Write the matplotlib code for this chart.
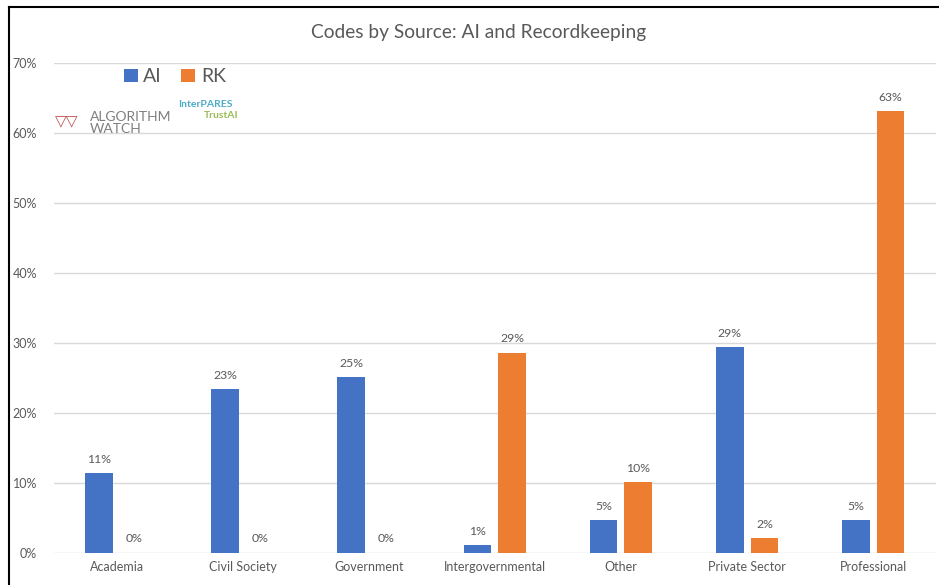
import matplotlib.pyplot as plt
from matplotlib.lines import Line2D
import numpy as np

plt.rcParams['font.family'] = ['Lato', 'DejaVu Sans']

categories = ["Academia", "Civil Society", "Government", "Intergovernmental",
              "Other", "Private Sector", "Professional"]
ai_values = [11.4, 23.4, 25.1, 1.1, 4.7, 29.4, 4.7]
rk_values = [0.0, 0.0, 0.0, 28.6, 10.1, 2.1, 63.1]
ai_labels = ["11%", "23%", "25%", "1%", "5%", "29%", "5%"]
rk_labels = ["0%", "0%", "0%", "29%", "10%", "2%", "63%"]

blue = "#4472c4"
orange = "#ed7d31"
grey = "#595959"

fig = plt.figure(figsize=(9.39, 5.85), dpi=100)
ax = fig.add_axes([0.057, 0.055, 0.94, 0.837])

x = np.arange(len(categories))
w = 0.22
off = 0.138
b1 = ax.bar(x - off, ai_values, w, color=blue, label="AI", zorder=3)
b2 = ax.bar(x + off, rk_values, w, color=orange, label="RK", zorder=3)

for bars, labs in [(b1, ai_labels), (b2, rk_labels)]:
    for b, t in zip(bars, labs):
        ax.annotate(t, (b.get_x() + b.get_width() / 2, b.get_height()),
                    xytext=(0, 6), textcoords="offset points",
                    ha="center", va="bottom", fontsize=8.8, color=grey)

ax.set_xlim(-0.5, len(categories) - 0.5)
ax.set_ylim(0, 70)
ax.set_yticks(range(0, 71, 10))
ax.set_yticklabels([f"{v}%" for v in range(0, 71, 10)])
ax.set_xticks(x)
ax.set_xticklabels(categories)
ax.tick_params(axis="both", length=0, labelsize=9, labelcolor=grey)
ax.tick_params(axis="y", pad=12)
ax.tick_params(axis="x", pad=6)
ax.grid(axis="y", color="#d9d9d9", linewidth=1, zorder=0)
for s in ax.spines.values():
    s.set_visible(False)

fig.text(0.51, 0.944, "Codes by Source: AI and Recordkeeping", ha="center",
         va="center", fontsize=13.8, color=grey)

ax.legend(loc="upper left", bbox_to_anchor=(0.06, 1.025), ncol=2, frameon=False,
          fontsize=14, handlelength=0.7, handleheight=0.7, handletextpad=0.3,
          columnspacing=1.0, labelcolor=grey)

# logo stand-ins
fig.text(0.096, 0.79, "ALGORITHM\nWATCH", fontsize=10, color="#7f7f7f",
         va="center", ha="left", linespacing=1.05)
fig.text(0.058, 0.79, "\u25bd\u25bd", fontsize=11, color="#c0504d", va="center",
         ha="left")
fig.text(0.19, 0.822, "InterPARES", fontsize=7.5, color="#4bacc6",
         fontweight="bold", va="center", ha="left")
fig.text(0.217, 0.803, "TrustAI", fontsize=7.5, color="#9bbb59",
         fontweight="bold", va="center", ha="left")

# frame lines of the screenshot
fig.add_artist(Line2D([9 / 939, 9 / 939], [0, 1 - 7 / 585], color="black",
                      linewidth=1.5, transform=fig.transFigure))
fig.add_artist(Line2D([9 / 939, 1], [1 - 7 / 585, 1 - 7 / 585], color="black",
                      linewidth=1.5, transform=fig.transFigure))

fig.savefig("out.png", dpi=100)
